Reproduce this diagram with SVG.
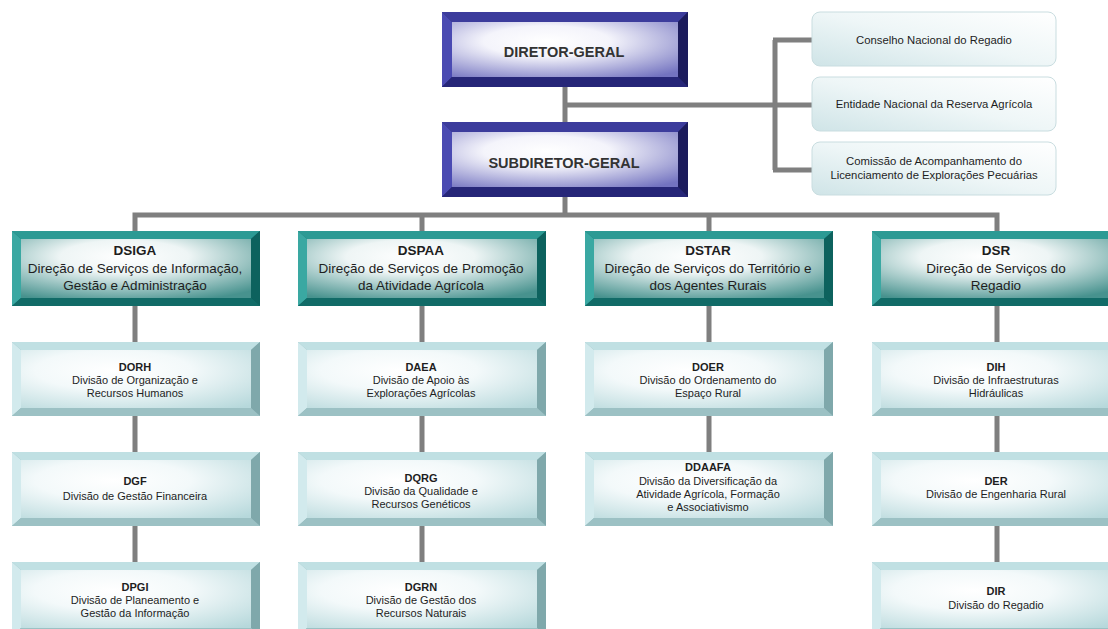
<svg xmlns="http://www.w3.org/2000/svg" xmlns:xlink="http://www.w3.org/1999/xlink" width="1108" height="629" viewBox="0 0 1108 629">
<style>
text{font-family:"Liberation Sans",Arial,sans-serif;fill:#1e1e1e;text-anchor:middle}
.top{font-size:14.5px;font-weight:bold;fill:#333}
.t13{font-size:13.5px}
.t13b{font-size:13.5px;font-weight:bold}
.t11{font-size:11px}
.t11b{font-size:11px;font-weight:bold}
.t105{font-size:11.3px}
.conn{stroke:#7f7f7f;stroke-width:5;fill:none}
.side{fill:url(#gSide);stroke:#c9dde0;stroke-width:1}
</style>
<defs>
<radialGradient id="gNavy" cx="0.42" cy="0.35" r="0.8">
<stop offset="0" stop-color="#ffffff"/><stop offset="0.35" stop-color="#f4f4fb"/><stop offset="1" stop-color="#7373c0"/>
</radialGradient>
<radialGradient id="gTeal" cx="0.45" cy="0.3" r="0.8">
<stop offset="0" stop-color="#ffffff"/><stop offset="0.35" stop-color="#eef5f5"/><stop offset="1" stop-color="#47928e"/>
</radialGradient>
<radialGradient id="gDiv" cx="0.4" cy="0.35" r="0.85">
<stop offset="0" stop-color="#ffffff"/><stop offset="0.4" stop-color="#f3f9fa"/><stop offset="1" stop-color="#b6d8db"/>
</radialGradient>
<linearGradient id="gSide" x1="1" y1="0" x2="0" y2="1">
<stop offset="0" stop-color="#ffffff"/><stop offset="0.5" stop-color="#eef6f7"/><stop offset="1" stop-color="#cfe4e7"/>
</linearGradient>
<symbol id="boxNavy" width="246" height="75" overflow="visible">
<rect x="0" y="0" width="246" height="75" fill="#24246e"/>
<polygon points="0,0 246,0 236,10 10,10" fill="#3c3c9c"/>
<polygon points="0,0 10,10 10,65 0,75" fill="#4a4ab2"/>
<polygon points="246,0 246,75 236,65 236,10" fill="#1b1b5c"/>
<polygon points="0,75 10,65 236,65 246,75" fill="#262678"/>
<rect x="10" y="10" width="226" height="55" fill="url(#gNavy)"/>
</symbol>
<symbol id="boxTeal" width="248" height="75" overflow="visible">
<rect x="0" y="0" width="248" height="75" fill="#12706c"/>
<polygon points="0,0 248,0 239,8 9,8" fill="#2c9a94"/>
<polygon points="0,0 9,8 9,67 0,75" fill="#3aa8a2"/>
<polygon points="248,0 248,75 239,67 239,8" fill="#0d625e"/>
<polygon points="0,75 9,67 239,67 248,75" fill="#116b67"/>
<rect x="9" y="8" width="230" height="59" fill="url(#gTeal)"/>
</symbol>
<symbol id="boxDiv" width="248" height="74" overflow="visible">
<rect x="0" y="0" width="248" height="74" fill="#8fb7ba"/>
<polygon points="0,0 248,0 239,8 9,8" fill="#c0e0e3"/>
<polygon points="0,0 9,8 9,66 0,74" fill="#d2eaed"/>
<polygon points="248,0 248,74 239,66 239,8" fill="#7fa8ab"/>
<polygon points="0,74 9,66 239,66 248,74" fill="#9cc1c4"/>
<rect x="9" y="8" width="230" height="58" fill="url(#gDiv)"/>
</symbol>
</defs>

<g id="connectors">
<path class="conn" d="M565,87 V215"/>
<path class="conn" d="M565,105 H775"/>
<path class="conn" d="M775,40 V170 M773,40 H812 M773,105 H812 M773,170 H812"/>
<path class="conn" d="M135,231 V215 H997 V231"/>
<path class="conn" d="M422,215 V231 M709,215 V231"/>
<path class="conn" d="M135,306 V342 M135,416 V452 M135,526 V562"/>
<path class="conn" d="M422,306 V342 M422,416 V452 M422,526 V562"/>
<path class="conn" d="M709,306 V342 M709,416 V452"/>
<path class="conn" d="M997,306 V342 M997,416 V452 M997,526 V562"/>
</g>

<g id="diretor-geral"><use xlink:href="#boxNavy" x="442" y="12"/><text class="top" x="564" y="57">DIRETOR-GERAL</text></g>
<g id="subdiretor-geral"><use xlink:href="#boxNavy" x="442" y="122"/><text class="top" x="564" y="168">SUBDIRETOR-GERAL</text></g>

<g id="cnr"><rect class="side" x="812" y="12" width="244" height="54" rx="8"/><text class="t105" x="934" y="44">Conselho Nacional do Regadio</text></g>
<g id="enra"><rect class="side" x="812" y="77" width="244" height="54" rx="8"/><text class="t105" x="934" y="108">Entidade Nacional da Reserva Agrícola</text></g>
<g id="calep"><rect class="side" x="812" y="142" width="244" height="53" rx="8"/><text class="t105" x="934" y="165">Comissão de Acompanhamento do</text><text class="t105" x="934" y="179">Licenciamento de Explorações Pecuárias</text></g>

<g id="dsiga"><use xlink:href="#boxTeal" x="12" y="231"/><text class="t13b" x="135" y="255">DSIGA</text><text class="t13" x="135" y="273">Direção de Serviços de Informação,</text><text class="t13" x="135" y="290">Gestão e Administração</text></g>
<g id="dspaa"><use xlink:href="#boxTeal" x="298" y="231"/><text class="t13b" x="421" y="255">DSPAA</text><text class="t13" x="421" y="273">Direção de Serviços de Promoção</text><text class="t13" x="421" y="290">da Atividade Agrícola</text></g>
<g id="dstar"><use xlink:href="#boxTeal" x="585" y="231"/><text class="t13b" x="708" y="255">DSTAR</text><text class="t13" x="708" y="273">Direção de Serviços do Território e</text><text class="t13" x="708" y="290">dos Agentes Rurais</text></g>
<g id="dsr"><use xlink:href="#boxTeal" x="872" y="231"/><text class="t13b" x="996" y="255">DSR</text><text class="t13" x="996" y="273">Direção de Serviços do</text><text class="t13" x="996" y="290">Regadio</text></g>

<g id="dorh"><use xlink:href="#boxDiv" x="12" y="342"/><text class="t11b" x="135" y="371">DORH</text><text class="t11" x="135" y="384">Divisão de Organização e</text><text class="t11" x="135" y="397">Recursos Humanos</text></g>
<g id="dgf"><use xlink:href="#boxDiv" x="12" y="452"/><text class="t11b" x="135" y="485">DGF</text><text class="t11" x="135" y="500">Divisão de Gestão Financeira</text></g>
<g id="dpgi"><use xlink:href="#boxDiv" x="12" y="562"/><text class="t11b" x="135" y="591">DPGI</text><text class="t11" x="135" y="604">Divisão de Planeamento e</text><text class="t11" x="135" y="617">Gestão da Informação</text></g>

<g id="daea"><use xlink:href="#boxDiv" x="298" y="342"/><text class="t11b" x="421" y="371">DAEA</text><text class="t11" x="421" y="384">Divisão de Apoio às</text><text class="t11" x="421" y="397">Explorações Agrícolas</text></g>
<g id="dqrg"><use xlink:href="#boxDiv" x="298" y="452"/><text class="t11b" x="421" y="482">DQRG</text><text class="t11" x="421" y="495">Divisão da Qualidade e</text><text class="t11" x="421" y="508">Recursos Genéticos</text></g>
<g id="dgrn"><use xlink:href="#boxDiv" x="298" y="562"/><text class="t11b" x="421" y="591">DGRN</text><text class="t11" x="421" y="604">Divisão de Gestão dos</text><text class="t11" x="421" y="617">Recursos Naturais</text></g>

<g id="doer"><use xlink:href="#boxDiv" x="585" y="342"/><text class="t11b" x="708" y="371">DOER</text><text class="t11" x="708" y="384">Divisão do Ordenamento do</text><text class="t11" x="708" y="397">Espaço Rural</text></g>
<g id="ddaafa"><use xlink:href="#boxDiv" x="585" y="452"/><text class="t11b" x="708" y="471">DDAAFA</text><text class="t11" x="708" y="485">Divisão da Diversificação da</text><text class="t11" x="708" y="498">Atividade Agrícola, Formação</text><text class="t11" x="708" y="511">e Associativismo</text></g>

<g id="dih"><use xlink:href="#boxDiv" x="872" y="342"/><text class="t11b" x="996" y="371">DIH</text><text class="t11" x="996" y="384">Divisão de Infraestruturas</text><text class="t11" x="996" y="397">Hidráulicas</text></g>
<g id="der"><use xlink:href="#boxDiv" x="872" y="452"/><text class="t11b" x="996" y="485">DER</text><text class="t11" x="996" y="498">Divisão de Engenharia Rural</text></g>
<g id="dir"><use xlink:href="#boxDiv" x="872" y="562"/><text class="t11b" x="996" y="595">DIR</text><text class="t11" x="996" y="609">Divisão do Regadio</text></g>
</svg>
